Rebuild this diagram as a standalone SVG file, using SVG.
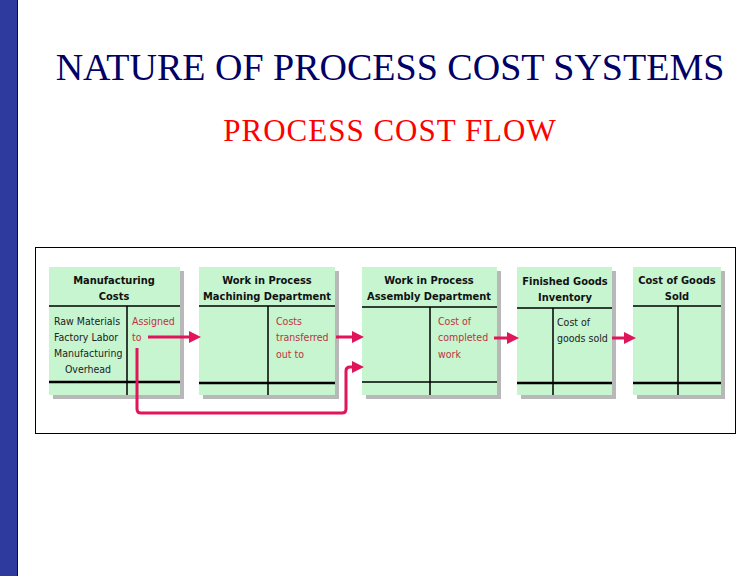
<svg xmlns="http://www.w3.org/2000/svg" width="756" height="576" viewBox="0 0 756 576">
<defs>
<style>
.box{fill:#c6f5d0}
.sh{fill:#b8b8b8}
.ln{stroke:#000;stroke-width:1.5;fill:none}
.bl{stroke:#000;stroke-width:2.5}
.hd{font-family:"DejaVu Sans Condensed","Liberation Sans",sans-serif;font-size:11px;font-weight:bold;text-anchor:middle;fill:#111}
.tx{font-family:"DejaVu Sans Condensed","Liberation Sans",sans-serif;font-size:10.5px;fill:#222}
.rd{font-family:"DejaVu Sans Condensed","Liberation Sans",sans-serif;font-size:10.5px;fill:#c0323c}
.ar{stroke:#e0155a;stroke-width:3;fill:none}
</style>
<marker id="ah" markerWidth="4" markerHeight="4" refX="1" refY="2" orient="auto" markerUnits="strokeWidth"><path d="M0,0 L4,2 L0,4 Z" fill="#e0155a"/></marker>
</defs>
<rect width="756" height="576" fill="#fff"/>
<rect x="0" y="0" width="17" height="576" fill="#2e3a9e"/>
<line x1="17.5" y1="0" x2="17.5" y2="576" stroke="#111" stroke-width="1"/>
<text x="390" y="80" font-family="Liberation Serif,serif" font-size="38" fill="#000066" text-anchor="middle">NATURE OF PROCESS COST SYSTEMS</text>
<text x="390" y="141" font-family="Liberation Serif,serif" font-size="31" letter-spacing="1" fill="#ff0000" text-anchor="middle">PROCESS COST FLOW</text>
<rect x="35.5" y="247.5" width="700" height="186" fill="none" stroke="#000" stroke-width="1"/>
<g id="n1"><rect class="sh" x="53" y="271" width="131" height="128"/><rect class="box" x="49" y="267" width="131" height="128"/>
<line class="ln" x1="49" y1="306" x2="180" y2="306"/><line class="bl" x1="49" y1="382" x2="180" y2="382"/><line class="ln" x1="127" y1="306" x2="127" y2="395"/>
<text class="hd" x="114" y="284">Manufacturing</text><text class="hd" x="114" y="300">Costs</text>
<text class="tx" x="54" y="325">Raw Materials</text><text class="tx" x="54" y="341">Factory Labor</text><text class="tx" x="54" y="357">Manufacturing</text><text class="tx" x="88" y="373" text-anchor="middle">Overhead</text>
<text class="rd" x="132" y="325">Assigned</text><text class="rd" x="132" y="341">to</text></g>
<g id="n2"><rect class="sh" x="203" y="271" width="136" height="128"/><rect class="box" x="199" y="267" width="136" height="128"/>
<line class="ln" x1="199" y1="306" x2="335" y2="306"/><line class="bl" x1="199" y1="383" x2="335" y2="383"/><line class="ln" x1="268" y1="306" x2="268" y2="395"/>
<text class="hd" x="267" y="284">Work in Process</text><text class="hd" x="267" y="300">Machining Department</text>
<text class="rd" x="276" y="325">Costs</text><text class="rd" x="276" y="341">transferred</text><text class="rd" x="276" y="358">out to</text></g>
<g id="n3"><rect class="sh" x="366" y="271" width="135" height="128"/><rect class="box" x="362" y="267" width="135" height="128"/>
<line class="ln" x1="362" y1="307" x2="497" y2="307"/><line class="ln" x1="362" y1="382" x2="497" y2="382"/><line class="ln" x1="430" y1="307" x2="430" y2="395"/>
<text class="hd" x="429" y="284">Work in Process</text><text class="hd" x="429" y="300">Assembly Department</text>
<text class="rd" x="438" y="325">Cost of</text><text class="rd" x="438" y="341">completed</text><text class="rd" x="438" y="358">work</text></g>
<g id="n4"><rect class="sh" x="521" y="271" width="95" height="128"/><rect class="box" x="517" y="267" width="95" height="128"/>
<line class="ln" x1="517" y1="308" x2="612" y2="308"/><line class="bl" x1="517" y1="383" x2="612" y2="383"/><line class="ln" x1="553" y1="308" x2="553" y2="395"/>
<text class="hd" x="565" y="285">Finished Goods</text><text class="hd" x="565" y="301">Inventory</text>
<text class="tx" x="557" y="326">Cost of</text><text class="tx" x="557" y="342">goods sold</text></g>
<g id="n5"><rect class="sh" x="637" y="271" width="88" height="128"/><rect class="box" x="633" y="267" width="88" height="128"/>
<line class="ln" x1="633" y1="306" x2="721" y2="306"/><line class="bl" x1="633" y1="383" x2="721" y2="383"/><line class="ln" x1="678" y1="306" x2="678" y2="395"/>
<text class="hd" x="677" y="284">Cost of Goods</text><text class="hd" x="677" y="300">Sold</text></g>
<g id="connectors">
<line class="ar" x1="148" y1="337" x2="192" y2="337" marker-end="url(#ah)"/>
<line class="ar" x1="336" y1="337" x2="355" y2="337" marker-end="url(#ah)"/>
<line class="ar" x1="494" y1="338" x2="510" y2="338" marker-end="url(#ah)"/>
<line class="ar" x1="612" y1="338" x2="627" y2="338" marker-end="url(#ah)"/>
<path class="ar" d="M137,348 V409 Q137,413 141,413 H342 Q346,413 346,409 V371 Q346,367 350,367 H355" marker-end="url(#ah)"/>
</g>
</svg>
